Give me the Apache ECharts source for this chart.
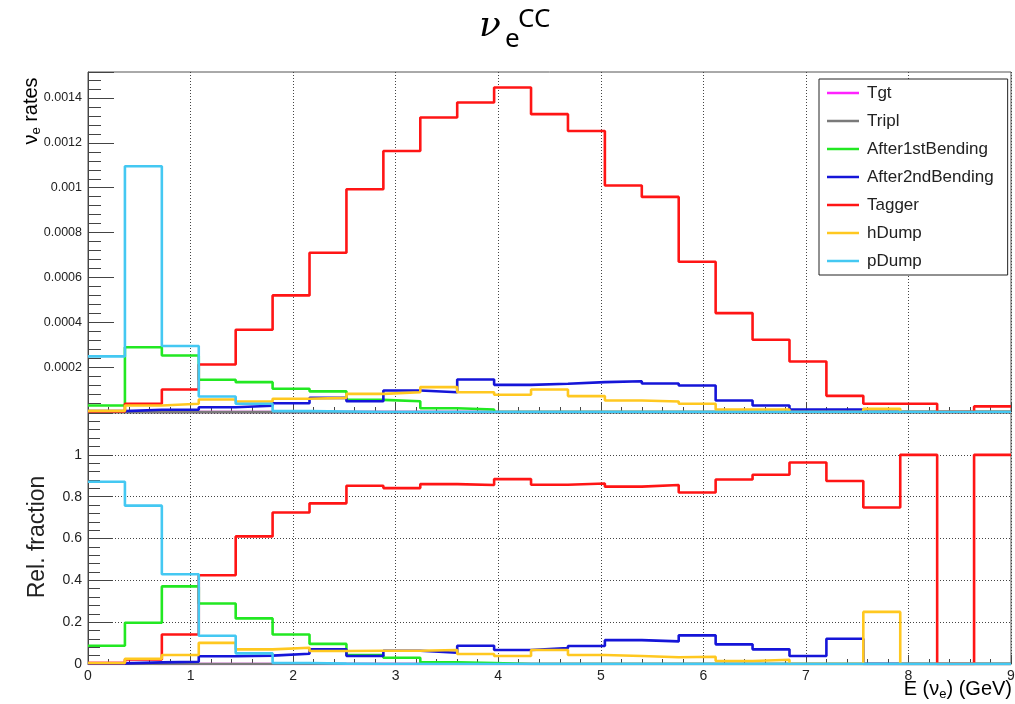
<!DOCTYPE html>
<html>
<head>
<meta charset="utf-8">
<title>νe CC</title>
<script src="https://cdn.jsdelivr.net/npm/echarts@6/dist/echarts.min.js"></script>
<style>
  html, body { margin: 0; padding: 0; background: #fff; }
  #chart { width: 1015px; height: 704px; }
</style>
</head>
<body>
<div id="chart"></div>
<script>
// bin edges of the histograms (GeV), 25 bins
const binEdges = [0, 0.36, 0.72, 1.08, 1.44, 1.8, 2.16, 2.52, 2.88, 3.24, 3.6, 3.96, 4.32,
  4.68, 5.04, 5.4, 5.76, 6.12, 6.48, 6.84, 7.2, 7.56, 7.92, 8.28, 8.64, 9]
const xTicks = [0, 1, 2, 3, 4, 5, 6, 7, 8, 9]

const sourceNames = ['Tgt', 'Tripl', 'After1stBending', 'After2ndBending', 'Tagger', 'hDump', 'pDump']
const sourceColors = ['#ff22ff', '#7a7a7a', '#22e822', '#1515d8', '#ff1515', '#ffc820', '#44c8f2']

// nu_e rates per bin (upper pad)
const ratesTgt = [0.000002, 0, 0, 0, 0, 0, 0, 0, 0, 0, 0, 0, 0, 0, 0, 0, 0, 0, 0, 0, 0, 0, 0, 0, 0]
const ratesTripl = [0, 0, 0, 0, 0, 0, 0, 0, 0, 0, 0, 0, 0, 0, 0, 0, 0, 0, 0, 0, 0, 0, 0, 0, 0]
const rates1st = [0.000029, 0.000289, 0.000252, 0.000144, 0.000133, 0.000104, 0.000092, 0.000054,
  0.000048, 0.000017, 0.000011, 0, 0, 0, 0, 0, 0, 0, 0, 0, 0, 0, 0, 0, 0]
const rates2nd = [0.000004, 0.00001, 0.00001, 0.000021, 0.000028, 0.000039, 0.000063, 0.000048,
  0.000096, 0.000088, 0.000145, 0.000121, 0.000126, 0.000133, 0.000137, 0.000127, 0.000118,
  0.000051, 0.000029, 0.000011, 0.000011, 0, 0, 0, 0]
const ratesTagger = [0.000002, 0.000037, 0.0001, 0.000212, 0.000367, 0.00052, 0.00071, 0.000993,
  0.001164, 0.001313, 0.00138, 0.001447, 0.001328, 0.001253, 0.00101, 0.000959, 0.00067,
  0.000441, 0.000322, 0.000225, 0.000072, 0.000037, 0.000037, 0, 0.000025]
const ratesHDump = [0.000005, 0.000029, 0.000037, 0.000056, 0.000047, 0.000059, 0.000063, 0.000081,
  0.000088, 0.000111, 0.000088, 0.000077, 0.0001, 0.000071, 0.000051, 0.000047, 0.000037,
  0.000011, 0.000011, 0, 0, 0.000014, 0, 0, 0]
const ratesPDump = [0.000248, 0.001096, 0.000294, 0.000069, 0.000037, 0.000004, 0.000002, 0, 0, 0,
  0, 0, 0, 0, 0, 0, 0, 0, 0, 0, 0, 0, 0, 0, 0]

// relative fraction per bin (lower pad)
const fracTgt = [0.005, 0, 0, 0, 0, 0, 0, 0, 0, 0, 0, 0, 0, 0, 0, 0, 0, 0, 0, 0, 0, 0, 0, 0, 0]
const fracTripl = [0, 0, 0, 0, 0, 0, 0, 0, 0, 0, 0, 0, 0, 0, 0, 0, 0, 0, 0, 0, 0, 0, 0, 0, 0]
const frac1st = [0.087, 0.197, 0.371, 0.289, 0.218, 0.141, 0.096, 0.043, 0.03, 0.008, 0.005, 0, 0,
  0, 0, 0, 0, 0, 0, 0, 0, 0, 0, 0, 0]
const frac2nd = [0.003, 0.008, 0.011, 0.037, 0.04, 0.049, 0.07, 0.038, 0.063, 0.054, 0.087, 0.067,
  0.076, 0.086, 0.114, 0.108, 0.137, 0.094, 0.07, 0.038, 0.121, 0, 0, 0, 0]
const fracTagger = [0.005, 0.022, 0.141, 0.424, 0.61, 0.724, 0.768, 0.852, 0.841, 0.86, 0.856, 0.884,
  0.857, 0.863, 0.848, 0.856, 0.82, 0.882, 0.905, 0.963, 0.875, 0.748, 1.0, 0, 1.0]
const fracHDump = [0.005, 0.025, 0.043, 0.101, 0.07, 0.078, 0.062, 0.063, 0.063, 0.067, 0.048, 0.038,
  0.067, 0.043, 0.038, 0.032, 0.035, 0.014, 0.02, 0, 0, 0.249, 0, 0, 0]
const fracPDump = [0.871, 0.757, 0.429, 0.135, 0.051, 0.005, 0.002, 0, 0, 0, 0, 0, 0, 0, 0, 0, 0, 0,
  0, 0, 0, 0, 0, 0, 0]

const ratesAll = [ratesTgt, ratesTripl, rates1st, rates2nd, ratesTagger, ratesHDump, ratesPDump]
const fracAll = [fracTgt, fracTripl, frac1st, frac2nd, fracTagger, fracHDump, fracPDump]

const FONT = '"Liberation Sans", Arial, Helvetica, sans-serif'
const INK = '#222'

// histogram -> step points: one point per left edge, last edge repeats last bin
function toSteps(values) {
  return binEdges.map((e, i) => [e, values[Math.min(i, values.length - 1)]])
}

function histSeries(values, idx, axis) {
  return {
    name: sourceNames[idx],
    type: 'line',
    step: 'end',
    xAxisIndex: axis,
    yAxisIndex: axis,
    data: toSteps(values),
    symbol: 'none',
    lineStyle: { color: sourceColors[idx], width: 2.6 },
    itemStyle: { color: sourceColors[idx] },
    emphasis: { disabled: true },
    animation: false
  }
}

function xAxisFor(gridIndex, showLabels) {
  return {
    type: 'value',
    gridIndex,
    min: 0,
    max: 9,
    interval: 1,
    axisLine: { lineStyle: { color: '#444', width: 1 } },
    axisTick: { inside: true, length: 9, lineStyle: { color: '#444' } },
    minorTick: { show: true, splitNumber: 5, length: 5, lineStyle: { color: '#444' } },
    splitLine: { show: true, lineStyle: { color: '#444', type: [1, 2], width: 1 } },
    axisLabel: {
      show: showLabels,
      color: INK,
      fontFamily: FONT,
      fontSize: 14,
      margin: 5,
      formatter: (v) => (xTicks.includes(v) ? String(v) : '')
    }
  }
}

const chart = echarts.init(document.getElementById('chart'), null, { renderer: 'canvas' })

const subRich = (size) => ({
  a: { fontSize: size, fontFamily: FONT, color: INK, lineHeight: size + 4 },
  s: { fontSize: Math.round(size * 0.65), fontFamily: FONT, color: INK, lineHeight: Math.round(size * 0.65), verticalAlign: 'bottom' }
})

const option = {
  backgroundColor: '#fff',
  animation: false,
  grid: [
    { left: 88, right: 4, top: 72, height: 340, show: true, borderColor: '#555', borderWidth: 1, outerBoundsMode: 'none' },
    { left: 88, right: 4, top: 413, height: 251, show: true, borderColor: '#555', borderWidth: 1, outerBoundsMode: 'none' }
  ],
  legend: {
    data: sourceNames,
    orient: 'vertical',
    left: 819,
    top: 79,
    padding: [4, 14, 4, 8],
    borderColor: '#222',
    borderWidth: 1,
    backgroundColor: '#fff',
    icon: 'rect',
    itemWidth: 32,
    itemHeight: 2.5,
    itemGap: 8,
    selectedMode: false,
    textStyle: { color: INK, fontFamily: FONT, fontSize: 17, lineHeight: 20, padding: [0, 0, 0, 3] }
  },
  xAxis: [xAxisFor(0, false), xAxisFor(1, true)],
  yAxis: [
    {
      type: 'value',
      gridIndex: 0,
      min: 0,
      max: 0.001516,
      interval: 0.0002,
      axisLine: { show: true, lineStyle: { color: '#444' } },
      axisTick: { show: true, inside: true, length: 26, lineStyle: { color: '#444' } },
      minorTick: { show: true, splitNumber: 5, length: 13, lineStyle: { color: '#444' } },
      splitLine: { show: false },
      axisLabel: {
        color: INK,
        fontFamily: FONT,
        fontSize: 12.5,
        margin: 6,
        showMaxLabel: false,
        formatter: (v) => (v === 0 || v > 0.00145 ? '' : String(+v.toFixed(4)))
      }
    },
    {
      type: 'value',
      gridIndex: 1,
      min: 0,
      max: 1.2,
      interval: 0.2,
      axisLine: { show: true, lineStyle: { color: '#444' } },
      axisTick: { show: true, inside: true, length: 25, lineStyle: { color: '#444' } },
      minorTick: { show: true, splitNumber: 5, length: 12, lineStyle: { color: '#444' } },
      splitLine: { show: true, lineStyle: { color: '#444', type: [1, 2], width: 1 } },
      axisLabel: {
        color: INK,
        fontFamily: FONT,
        fontSize: 14,
        margin: 6,
        formatter: (v) => (v > 1.1 ? '' : String(+v.toFixed(1)))
      }
    }
  ],
  graphic: [
    // title  nu_e^CC
    { type: 'text', x: 479, y: 27, style: { text: 'ν', font: 'italic 36px "DejaVu Serif"', fill: '#000', align: 'left', verticalAlign: 'middle' } },
    { type: 'text', x: 505, y: 40, style: { text: 'e', font: '26px "Noto Sans"', fill: '#000', align: 'left', verticalAlign: 'middle' } },
    { type: 'text', x: 518, y: 20, style: { text: 'CC', font: '26px "Noto Sans"', fill: '#000', align: 'left', verticalAlign: 'middle' } },
    // axis titles
    {
      type: 'text', x: 31, y: 111, rotation: Math.PI / 2,
      style: { text: '{a|ν}{s|e}{a| rates}', rich: subRich(20), align: 'center', verticalAlign: 'middle' }
    },
    {
      type: 'text', x: 38, y: 537, rotation: Math.PI / 2,
      style: { text: 'Rel. fraction', font: '23px ' + FONT, fill: INK, align: 'center', verticalAlign: 'middle' }
    },
    {
      type: 'text', x: 1012, y: 689,
      style: { text: '{a|E (ν}{s|e}{a|) (GeV)}', rich: subRich(20), align: 'right', verticalAlign: 'middle' }
    }
  ],
  series: [
    ...ratesAll.map((v, i) => histSeries(v, i, 0)),
    ...fracAll.map((v, i) => histSeries(v, i, 1))
  ]
}

chart.setOption(option)
window.addEventListener('resize', () => chart.resize())
</script>
</body>
</html>
